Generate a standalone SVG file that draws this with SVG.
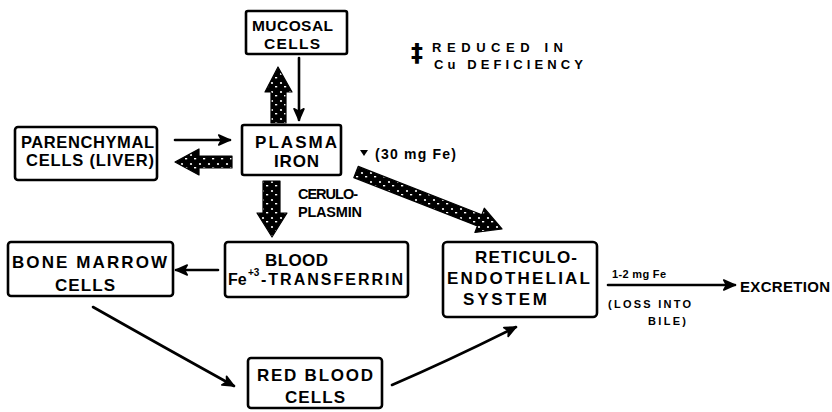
<svg xmlns="http://www.w3.org/2000/svg" width="832" height="412" viewBox="0 0 832 412">
<style>
.box{fill:#fff;stroke:#000;stroke-width:2.6;stroke-linejoin:round}
.t{font-family:"Liberation Sans",Arial,sans-serif;font-weight:bold;fill:#000}
.s{font-family:"Liberation Sans",Arial,sans-serif;font-weight:bold;font-size:11px;fill:#000}
.ln{fill:none;stroke:#000;stroke-width:2.6;stroke-linecap:round}
.hat{fill:url(#hatch);stroke:#000;stroke-width:1.2;stroke-linejoin:round}
</style>
<defs>
<pattern id="hatch" width="9" height="9" patternUnits="userSpaceOnUse">
<rect width="9" height="9" fill="#000"/>
<circle cx="2" cy="2" r="1.1" fill="#fff"/>
<rect x="5" y="5" width="2.2" height="1.4" fill="#fff"/>
</pattern>
<marker id="ahb" viewBox="0 0 10 10" refX="9" refY="5" markerWidth="14" markerHeight="14" orient="auto" markerUnits="userSpaceOnUse">
<path d="M1,1.5 L9,5 L1,8.5 L3,5 Z" fill="#000" stroke="#000" stroke-width="1.2" stroke-linejoin="round"/>
</marker>
</defs>

<g id="connectors">
<polygon class="hat" points="278,67 292,92 286,92 286,123 271,123 271,92 265,92"/>
<line class="ln" x1="299" y1="58" x2="299" y2="120" marker-end="url(#ahb)"/>
<line class="ln" x1="175" y1="140" x2="230" y2="140" marker-end="url(#ahb)"/>
<polygon class="hat" points="175,162 199,149 199,156 232,156 232,168 199,168 199,175"/>
<polygon class="hat" points="263,181 280,181 280,213 287,213 272,237 257,213 263,213"/>
<polygon class="hat" points="358.2,166.4 481.8,214.7 484.3,208.2 502,229 474.9,232.4 477.4,225.9 353.8,177.6"/>
<line class="ln" x1="218" y1="270" x2="176" y2="270" marker-end="url(#ahb)"/>
<path class="ln" d="M93,307 Q160,345 234,386" marker-end="url(#ahb)"/>
<path class="ln" d="M392,385 Q450,360 516,327" marker-end="url(#ahb)"/>
<line class="ln" x1="608" y1="285" x2="735" y2="285" marker-end="url(#ahb)"/>
</g>

<g id="mucosal">
<rect class="box" x="246" y="11" width="101" height="43" rx="2"/>
<text class="t" style="font-size:15.5px" x="252" y="31" textLength="81" lengthAdjust="spacing">MUCOSAL</text>
<text class="t" style="font-size:15.5px" x="264" y="49" textLength="56" lengthAdjust="spacing">CELLS</text>
</g>

<g id="legend">
<text x="411" y="61" font-family="DejaVu Sans, sans-serif" font-weight="bold" font-size="24" fill="#000">‡</text>
<text class="t" style="font-size:13px" x="432" y="52" textLength="131" lengthAdjust="spacing">REDUCED  IN</text>
<text class="t" style="font-size:13px" x="434" y="69" textLength="149" lengthAdjust="spacing">Cu  DEFICIENCY</text>
</g>

<g id="parenchymal">
<rect class="box" x="15" y="127" width="142" height="53" rx="3"/>
<text class="t" style="font-size:16.5px" x="21" y="148" textLength="133" lengthAdjust="spacing">PARENCHYMAL</text>
<text class="t" style="font-size:16.5px" x="26" y="166" textLength="128" lengthAdjust="spacing">CELLS (LIVER)</text>
</g>

<g id="plasma">
<rect class="box" x="242" y="125" width="99" height="50" rx="2"/>
<text class="t" style="font-size:17px" x="255" y="148" textLength="82" lengthAdjust="spacing">PLASMA</text>
<text class="t" style="font-size:17px" x="274" y="167" textLength="45" lengthAdjust="spacing">IRON</text>
</g>

<g id="note30">
<polygon points="360,150 368,150 364,156" fill="#000"/>
<text class="t" style="font-size:14px" x="375" y="159" textLength="81" lengthAdjust="spacing">(30  mg  Fe)</text>
</g>

<g id="ceruloplasmin">
<text class="t" style="font-size:14.5px" x="298" y="199" textLength="60" lengthAdjust="spacing">CERULO-</text>
<text class="t" style="font-size:14.5px" x="298" y="217" textLength="64" lengthAdjust="spacing">PLASMIN</text>
</g>

<g id="bonemarrow">
<rect class="box" x="8" y="242" width="165" height="54" rx="3"/>
<text class="t" style="font-size:17px" x="12" y="268" textLength="155" lengthAdjust="spacing">BONE  MARROW</text>
<text class="t" style="font-size:17px" x="55" y="291" textLength="60" lengthAdjust="spacing">CELLS</text>
</g>

<g id="blood">
<rect class="box" x="225" y="242" width="183" height="55" rx="3"/>
<text class="t" style="font-size:17px" x="265" y="266" textLength="63" lengthAdjust="spacing">BLOOD</text>
<text class="t" style="font-size:16px" x="228" y="285">Fe</text>
<text class="t" style="font-size:10px" x="248" y="276">+3</text>
<text class="t" style="font-size:16px" x="261" y="285" textLength="142" lengthAdjust="spacing">-TRANSFERRIN</text>
</g>

<g id="reticulo">
<rect class="box" x="443" y="242" width="154" height="75" rx="4"/>
<text class="t" style="font-size:17px" x="475" y="263" textLength="102" lengthAdjust="spacing">RETICULO-</text>
<text class="t" style="font-size:17px" x="447" y="284" textLength="143" lengthAdjust="spacing">ENDOTHELIAL</text>
<text class="t" style="font-size:17px" x="463" y="305" textLength="84" lengthAdjust="spacing">SYSTEM</text>
</g>

<g id="excretion-notes">
<text class="s" x="612" y="278" textLength="54" lengthAdjust="spacing">1-2 mg Fe</text>
<text class="s" x="608" y="308" textLength="83" lengthAdjust="spacing">(LOSS  INTO</text>
<text class="s" x="648" y="325" textLength="38" lengthAdjust="spacing">BILE)</text>
</g>

<g id="excretion">
<text class="t" style="font-size:15px" x="740" y="292" textLength="90" lengthAdjust="spacing">EXCRETION</text>
</g>

<g id="redbloodcells">
<rect class="box" x="248" y="358" width="134" height="50" rx="3"/>
<text class="t" style="font-size:17px" x="257" y="381" textLength="116" lengthAdjust="spacing">RED  BLOOD</text>
<text class="t" style="font-size:17px" x="285" y="403" textLength="60" lengthAdjust="spacing">CELLS</text>
</g>
</svg>
